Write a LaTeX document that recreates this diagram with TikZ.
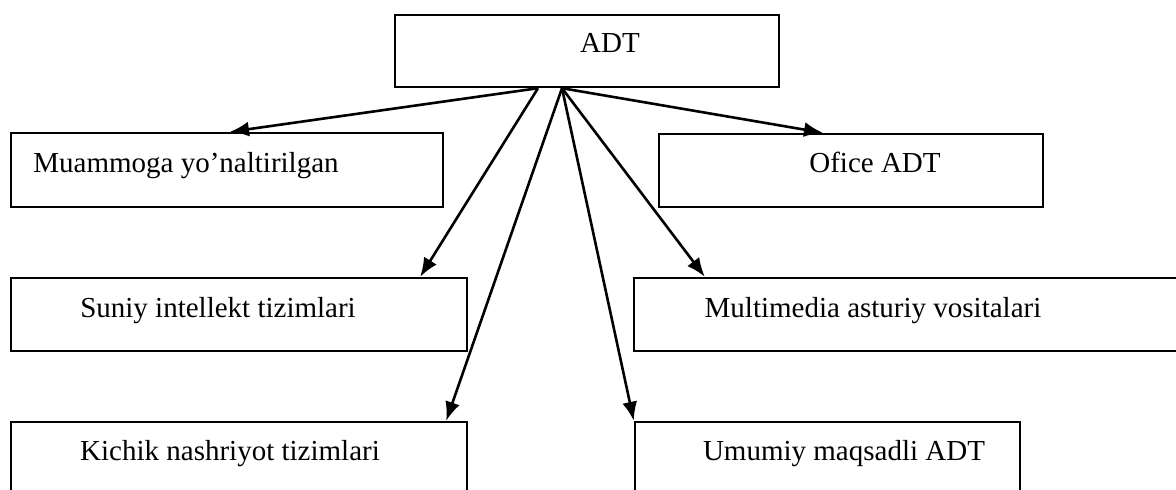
\documentclass[tikz,border=0pt]{standalone}
\usepackage{fontspec}
\setmainfont{Liberation Serif}
\usetikzlibrary{arrows.meta}
\tikzset{
  box/.style={draw,line width=2.4pt,inner sep=0pt},
  txt/.style={anchor=base,inner sep=0pt,font=\fontsize{29}{34}\selectfont},
  conn/.style={line width=2.6pt,-{Latex[length=19pt,width=15pt]}}
}
\begin{document}
\begin{tikzpicture}[x=1pt,y=-1pt]
  \useasboundingbox (0,0) rectangle (1176,490);
  \clip (0,0) rectangle (1176,490);
  % boxes
  \node [box,minimum width=384pt,minimum height=72pt] (adt) at (587,51) {};
  \node [box,minimum width=432pt,minimum height=74pt] (muam) at (227,170) {};
  \node [box,minimum width=384pt,minimum height=73pt] (ofice) at (851,170.5) {};
  \node [box,minimum width=456pt,minimum height=73pt] (suniy) at (239,314.5) {};
  \node [box,minimum width=548pt,minimum height=73pt] (multi) at (908,314.5) {};
  \node [box,minimum width=456pt,minimum height=80pt] (kichik) at (239,462) {};
  \node [box,minimum width=385pt,minimum height=80pt] (umumiy) at (827.5,462) {};
  % texts
  \node [txt] (adttxt) at (610,52) {ADT};
  \node [txt] (muamtxt) at (186,172) {Muammoga yo’naltirilgan};
  \node [txt] (ofictxt) at (875,172) {Ofice ADT};
  \node [txt] (suniytxt) at (218,317) {Suniy intellekt tizimlari};
  \node [txt] (multitxt) at (873,317) {Multimedia asturiy vositalari};
  \node [txt] (kichtxt) at (230,460) {Kichik nashriyot tizimlari};
  \node [txt] (umumtxt) at (844,460) {Umumiy maqsadli ADT};
  % arrows
  \coordinate (ol) at ([xshift=-49pt]adt.south);
  \coordinate (or) at ([xshift=-25pt]adt.south);
  \draw [conn] (ol) -- ([xshift=3pt]muam.north);
  \draw [conn] (ol) -- ([xshift=-48pt]suniy.north east);
  \draw [conn] (or) -- ([xshift=-22pt]kichik.north east);
  \draw [conn] (or) -- (umumiy.north west);
  \draw [conn] (or) -- ([xshift=72pt]multi.north west);
  \draw [conn] (or) -- ([xshift=-28pt]ofice.north);
\end{tikzpicture}
\end{document}
